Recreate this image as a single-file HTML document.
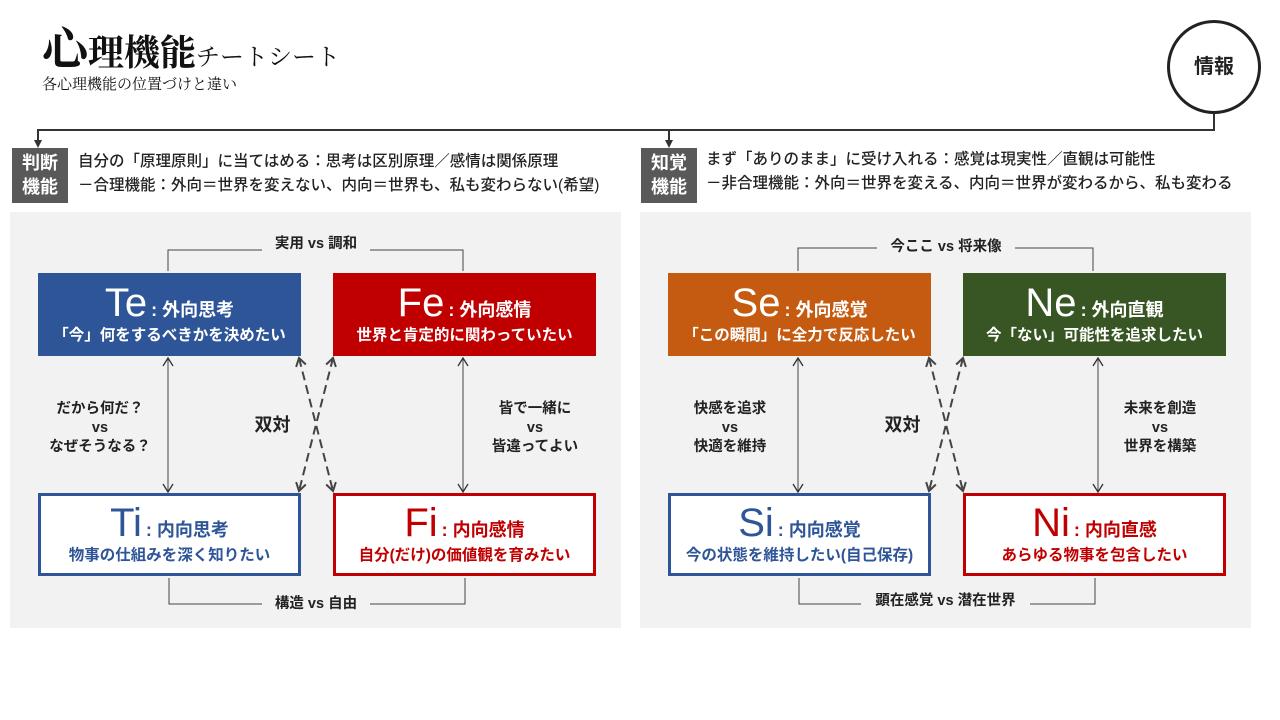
<!DOCTYPE html>
<html><head><meta charset="utf-8"><style>
*{margin:0;padding:0;box-sizing:border-box}
body{width:1280px;height:720px;background:#fff;position:relative;overflow:hidden;font-family:"Liberation Sans","Noto Sans CJK JP",sans-serif;color:#222}
.a{position:absolute}
.panel{position:absolute;background:#f2f2f2;top:212px;height:416px;width:611px}
.box{position:absolute;width:263px;height:83px;text-align:center}
.box .h{position:absolute;left:0;right:0;top:6px;font-size:40px;line-height:48px;font-weight:300}
.box .h span{font-size:18px;font-weight:bold;margin-left:4px}
.box .s{position:absolute;left:0;right:0;top:54px;font-size:15.5px;font-weight:bold;line-height:18px}
.fill{color:#fff}
.out{background:#fff;border:3px solid}
.out .h{top:3px}.out .s{top:51px}
.lab{position:absolute;font-size:14.5px;font-weight:bold;text-align:center;line-height:19px}
.tag{position:absolute;width:56px;height:55px;background:#595959;color:#fff;font-weight:bold;font-size:18px;line-height:24px;text-align:center;padding-top:3px}
.desc{position:absolute;font-size:15.5px;line-height:24px;font-weight:500;color:#222;white-space:nowrap}
</style></head><body>
<div class="a" style="left:42px;top:20px;font-family:'Liberation Serif','Noto Serif CJK SC',serif;color:#111;white-space:nowrap;line-height:60px"><span style="font-size:46px;font-weight:bold">心</span><span style="font-size:36px;font-weight:bold">理機能</span><span style="font-size:24px">チートシート</span></div>
<div class="a" style="left:42px;top:73px;font-family:'Liberation Serif','Noto Serif CJK SC',serif;font-size:15px;color:#111">各心理機能の位置づけと違い</div>
<div class="a" style="left:1167px;top:20px;width:94px;height:94px;border:3px solid #222;border-radius:50%;text-align:center;line-height:88px;font-size:20px;font-weight:bold">情報</div>

<div class="panel" style="left:10px"></div>
<div class="panel" style="left:640px"></div>

<svg class="a" style="left:0;top:0" width="1280" height="720">
<defs>
<marker id="op" markerUnits="userSpaceOnUse" markerWidth="12" markerHeight="12" refX="10" refY="6" orient="auto-start-reverse"><path d="M2,1 L10,6 L2,11" fill="none" stroke="#333" stroke-width="1.3"/></marker>
<marker id="od" markerUnits="userSpaceOnUse" markerWidth="12" markerHeight="12" refX="10" refY="6" orient="auto-start-reverse"><path d="M2,1 L10,6 L2,11" fill="none" stroke="#444" stroke-width="2"/></marker></defs>
<g stroke="#333" fill="none" stroke-width="2">
<path d="M1214,114 V130 H38 V146"/><path d="M669,130 V146"/>
</g>
<path d="M34,140 L42,140 L38,148z M665,140 L673,140 L669,148z" fill="#333"/>
<g stroke="#444" fill="none" stroke-width="1">
<path d="M168,271 V250 H262 M370,250 H463 V271"/>
<path d="M169,578 V604 H262 M370,604 H465 V578"/>
<path d="M798,271 V248 H877 M1015,248 H1093 V271"/>
<path d="M799,578 V604 H861 M1030,604 H1095 V578"/>
<path d="M168,358 V492" marker-start="url(#op)" marker-end="url(#op)"/>
<path d="M463,358 V492" marker-start="url(#op)" marker-end="url(#op)"/>
<path d="M798,358 V492" marker-start="url(#op)" marker-end="url(#op)"/>
<path d="M1098,358 V492" marker-start="url(#op)" marker-end="url(#op)"/>
</g>
<g stroke="#444" fill="none" stroke-width="2" stroke-dasharray="9,5">
<path d="M299,358 L333,491" marker-start="url(#od)" marker-end="url(#od)"/>
<path d="M333,358 L299,491" marker-start="url(#od)" marker-end="url(#od)"/>
<path d="M929,358 L963,491" marker-start="url(#od)" marker-end="url(#od)"/>
<path d="M963,358 L929,491" marker-start="url(#od)" marker-end="url(#od)"/>
</g>
</svg>

<div class="tag" style="left:12px;top:148px">判断<br>機能</div>
<div class="desc" style="left:78px;top:150px">自分の「原理原則」に当てはめる：思考は区別原理／感情は関係原理<br>－合理機能：外向＝世界を変えない、内向＝世界も、私も変わらない(希望)</div>
<div class="tag" style="left:641px;top:148px">知覚<br>機能</div>
<div class="desc" style="left:706px;top:148px">まず「ありのまま」に受け入れる：感覚は現実性／直観は可能性<br>－非合理機能：外向＝世界を変える、内向＝世界が変わるから、私も変わる</div>

<div class="box fill" style="left:38px;top:273px;background:#2e5597"><div class="h">Te<span>: 外向思考</span></div><div class="s">「今」何をするべきかを決めたい</div></div>
<div class="box fill" style="left:333px;top:273px;background:#c00000"><div class="h">Fe<span>: 外向感情</span></div><div class="s">世界と肯定的に関わっていたい</div></div>
<div class="box out" style="left:38px;top:493px;border-color:#2e5597;color:#2e5597"><div class="h">Ti<span>: 内向思考</span></div><div class="s">物事の仕組みを深く知りたい</div></div>
<div class="box out" style="left:333px;top:493px;border-color:#c00000;color:#c00000"><div class="h">Fi<span>: 内向感情</span></div><div class="s">自分(だけ)の価値観を育みたい</div></div>

<div class="box fill" style="left:668px;top:273px;background:#c55a11"><div class="h">Se<span>: 外向感覚</span></div><div class="s">「この瞬間」に全力で反応したい</div></div>
<div class="box fill" style="left:963px;top:273px;background:#375623"><div class="h">Ne<span>: 外向直観</span></div><div class="s">今「ない」可能性を追求したい</div></div>
<div class="box out" style="left:668px;top:493px;border-color:#2e5597;color:#2e5597"><div class="h">Si<span>: 内向感覚</span></div><div class="s">今の状態を維持したい(自己保存)</div></div>
<div class="box out" style="left:963px;top:493px;border-color:#c00000;color:#c00000"><div class="h">Ni<span>: 内向直感</span></div><div class="s">あらゆる物事を包含したい</div></div>

<div class="lab" style="left:262px;top:235px;width:108px">実用 vs 調和</div>
<div class="lab" style="left:262px;top:595px;width:108px">構造 vs 自由</div>
<div class="lab" style="left:877px;top:238px;width:138px">今ここ vs 将来像</div>
<div class="lab" style="left:861px;top:592px;width:169px">顕在感覚 vs 潜在世界</div>

<div class="lab" style="left:35px;top:400px;width:130px">だから何だ？<br>vs<br>なぜそうなる？</div>
<div class="lab" style="left:470px;top:400px;width:130px">皆で一緒に<br>vs<br>皆違ってよい</div>
<div class="lab" style="left:670px;top:400px;width:120px">快感を追求<br>vs<br>快適を維持</div>
<div class="lab" style="left:1100px;top:400px;width:120px">未来を創造<br>vs<br>世界を構築</div>
<div class="lab" style="left:245px;top:416px;width:55px;font-size:18px">双対</div>
<div class="lab" style="left:875px;top:416px;width:55px;font-size:18px">双対</div>
</body></html>
